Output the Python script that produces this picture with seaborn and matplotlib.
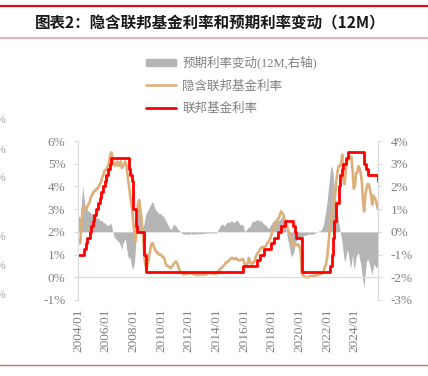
import matplotlib
matplotlib.use('Agg')
import matplotlib.pyplot as plt
from matplotlib.patches import Patch
from matplotlib.lines import Line2D
import numpy as np
import pandas as pd
import seaborn as sns

sns.set_style('white')
plt.rcParams['font.family'] = ['Liberation Serif', 'Noto Sans CJK SC']

# monthly data, 2004/01 - 2025/09 (one row per year)
fed_funds = [
    1.00, 1.00, 1.00, 1.00, 1.00, 1.25, 1.25, 1.50, 1.75, 1.75, 2.00, 2.25,
    2.25, 2.50, 2.75, 2.75, 3.00, 3.25, 3.25, 3.50, 3.75, 3.75, 4.00, 4.25,
    4.50, 4.50, 4.75, 4.75, 5.00, 5.25, 5.25, 5.25, 5.25, 5.25, 5.25, 5.25,
    5.25, 5.25, 5.25, 5.25, 5.25, 5.25, 5.25, 5.25, 4.75, 4.50, 4.50, 4.25,
    3.00, 3.00, 2.25, 2.00, 2.00, 2.00, 2.00, 2.00, 2.00, 1.00, 1.00, 0.25,
    0.25, 0.25, 0.25, 0.25, 0.25, 0.25, 0.25, 0.25, 0.25, 0.25, 0.25, 0.25,
    0.25, 0.25, 0.25, 0.25, 0.25, 0.25, 0.25, 0.25, 0.25, 0.25, 0.25, 0.25,
    0.25, 0.25, 0.25, 0.25, 0.25, 0.25, 0.25, 0.25, 0.25, 0.25, 0.25, 0.25,
    0.25, 0.25, 0.25, 0.25, 0.25, 0.25, 0.25, 0.25, 0.25, 0.25, 0.25, 0.25,
    0.25, 0.25, 0.25, 0.25, 0.25, 0.25, 0.25, 0.25, 0.25, 0.25, 0.25, 0.25,
    0.25, 0.25, 0.25, 0.25, 0.25, 0.25, 0.25, 0.25, 0.25, 0.25, 0.25, 0.25,
    0.25, 0.25, 0.25, 0.25, 0.25, 0.25, 0.25, 0.25, 0.25, 0.25, 0.25, 0.50,
    0.50, 0.50, 0.50, 0.50, 0.50, 0.50, 0.50, 0.50, 0.50, 0.50, 0.50, 0.75,
    0.75, 0.75, 1.00, 1.00, 1.00, 1.25, 1.25, 1.25, 1.25, 1.25, 1.25, 1.50,
    1.50, 1.50, 1.75, 1.75, 1.75, 2.00, 2.00, 2.00, 2.25, 2.25, 2.25, 2.50,
    2.50, 2.50, 2.50, 2.50, 2.50, 2.50, 2.25, 2.25, 2.00, 1.75, 1.75, 1.75,
    1.75, 1.75, 0.25, 0.25, 0.25, 0.25, 0.25, 0.25, 0.25, 0.25, 0.25, 0.25,
    0.25, 0.25, 0.25, 0.25, 0.25, 0.25, 0.25, 0.25, 0.25, 0.25, 0.25, 0.25,
    0.25, 0.25, 0.50, 0.50, 1.00, 1.75, 2.50, 2.50, 3.25, 3.25, 4.00, 4.50,
    4.50, 4.75, 5.00, 5.00, 5.25, 5.25, 5.50, 5.50, 5.50, 5.50, 5.50, 5.50,
    5.50, 5.50, 5.50, 5.50, 5.50, 5.50, 5.50, 5.50, 5.00, 5.00, 4.75, 4.50,
    4.50, 4.50, 4.50, 4.50, 4.50, 4.50, 4.50, 4.50, 4.25,
]

implied_rate = [
    1.7, 1.5, 1.5, 2.4, 3.0, 3.1, 3.0, 3.0, 3.1, 3.2, 3.3, 3.5,
    3.6, 3.7, 3.8, 3.8, 3.9, 3.9, 4.0, 4.1, 4.2, 4.4, 4.5, 4.7,
    4.7, 4.8, 4.9, 5.1, 5.4, 5.5, 5.2, 5.0, 4.9, 5.0, 5.1, 4.9,
    5.0, 5.1, 4.8, 4.9, 5.0, 5.1, 4.9, 4.5, 4.1, 3.7, 3.3, 3.0,
    2.3, 2.0, 1.6, 2.6, 3.2, 3.4, 3.0, 2.6, 2.1, 1.3, 0.7, 0.4,
    0.5, 0.7, 1.0, 1.3, 1.5, 1.5, 1.3, 1.2, 1.1, 1.1, 1.0, 1.0,
    1.0, 0.9, 0.9, 0.8, 0.6, 0.5, 0.5, 0.45, 0.4, 0.45, 0.5, 0.6,
    0.65, 0.7, 0.6, 0.45, 0.3, 0.25, 0.2, 0.15, 0.12, 0.15, 0.15, 0.15,
    0.15, 0.18, 0.2, 0.18, 0.15, 0.12, 0.12, 0.12, 0.1, 0.1, 0.12, 0.12,
    0.12, 0.12, 0.12, 0.12, 0.15, 0.2, 0.2, 0.18, 0.17, 0.15, 0.15, 0.15,
    0.15, 0.2, 0.3, 0.35, 0.4, 0.45, 0.5, 0.55, 0.65, 0.65, 0.7, 0.75,
    0.8, 0.85, 0.85, 0.8, 0.8, 0.85, 0.8, 0.75, 0.75, 0.75, 0.8, 0.8,
    0.65, 0.5, 0.55, 0.6, 0.85, 0.7, 0.6, 0.6, 0.65, 0.7, 0.9, 1.0,
    1.1, 1.15, 1.25, 1.3, 1.35, 1.3, 1.35, 1.4, 1.5, 1.55, 1.65, 1.75,
    1.95, 2.1, 2.2, 2.3, 2.45, 2.55, 2.6, 2.75, 2.9, 2.85, 2.75, 2.55,
    2.3, 2.3, 2.1, 1.95, 1.8, 1.6, 1.55, 1.4, 1.45, 1.4, 1.45, 1.45,
    1.35, 1.1, 0.15, 0.1, 0.05, 0.0, 0.0, 0.0, 0.0, 0.05, 0.05, 0.05,
    0.05, 0.05, 0.1, 0.1, 0.1, 0.12, 0.15, 0.15, 0.2, 0.3, 0.45, 0.6,
    0.9, 1.4, 2.0, 2.4, 2.8, 3.1, 3.3, 3.7, 4.3, 4.7, 4.9, 4.9,
    5.0, 5.4, 4.3, 4.1, 4.6, 5.1, 5.2, 5.2, 5.3, 5.3, 4.7, 3.9,
    4.0, 4.6, 4.6, 4.9, 4.8, 4.6, 4.2, 3.4, 2.9, 3.6, 3.9, 4.1,
    4.1, 3.9, 3.6, 3.2, 3.6, 3.5, 3.4, 3.2, 3.0,
]

expected_change = [
    0.6, 0.7, 0.6, 1.3, 2.0, 1.6, 1.2, 1.1, 1.0, 0.9, 0.9, 0.8,
    0.8, 0.8, 0.7, 0.7, 0.6, 0.6, 0.6, 0.5, 0.5, 0.5, 0.4, 0.4,
    0.35, 0.3, 0.3, 0.3, 0.4, 0.3, 0.05, -0.15, -0.3, -0.3, -0.4, -0.4,
    -0.5, -0.6, -0.8, -0.5, -0.4, -0.3, -0.7, -1.0, -1.2, -1.1, -1.4, -1.6,
    -1.6, -1.3, -0.6, 0.6, 1.2, 1.0, 0.6, 0.2, 0.1, 0.3, 0.6, 0.8,
    0.9, 1.0, 1.1, 1.2, 1.3, 1.3, 1.1, 1.0, 0.9, 0.9, 0.8, 0.8,
    0.8, 0.7, 0.7, 0.6, 0.5, 0.4, 0.3, 0.2, 0.15, 0.1, 0.25, 0.35,
    0.3, 0.25, 0.15, 0.1, 0.05, 0.0, -0.05, -0.1, -0.1, -0.1, -0.1, -0.1,
    -0.1, -0.1, -0.05, -0.1, -0.1, -0.1, -0.1, -0.08, -0.08, -0.08, -0.08, -0.08,
    -0.08, -0.08, -0.05, -0.05, -0.05, -0.05, -0.03, -0.05, -0.05, -0.05, -0.05, -0.05,
    -0.05, 0.05, 0.15, 0.25, 0.3, 0.35, 0.3, 0.25, 0.35, 0.4, 0.45, 0.4,
    0.45, 0.5, 0.45, 0.4, 0.45, 0.5, 0.5, 0.45, 0.35, 0.3, 0.35, 0.3,
    0.1, 0.0, 0.1, 0.15, 0.25, 0.2, 0.35, 0.45, 0.5, 0.45, 0.5, 0.55,
    0.5, 0.5, 0.45, 0.5, 0.4, 0.35, 0.3, 0.3, 0.2, 0.15, 0.2, 0.3,
    0.4, 0.45, 0.5, 0.55, 0.6, 0.55, 0.5, 0.55, 0.6, 0.7, 0.6, 0.3,
    0.2, -0.1, -0.4, -0.6, -0.9, -1.1, -1.0, -0.9, -0.6, -0.4, -0.35, -0.3,
    -0.3, -0.5, -0.4, -0.2, -0.15, -0.15, -0.15, -0.1, -0.1, -0.1, -0.1, -0.1,
    -0.1, -0.05, -0.05, 0.0, 0.0, 0.05, 0.05, 0.1, 0.2, 0.4, 0.7, 1.0,
    1.4, 1.9, 2.4, 2.8, 2.9, 2.6, 2.0, 1.6, 1.2, 0.8, 0.4, 0.1,
    -0.2, -0.5, -1.0, -1.3, -1.2, -0.8, -0.9, -1.2, -1.6, -1.4, -1.0, -1.6,
    -1.5, -1.1, -1.0, -0.9, -1.2, -1.4, -1.8, -2.2, -2.4, -1.8, -1.3, -1.2,
    -1.3, -1.5, -1.7, -1.9, -1.5, -1.4, -1.6, -1.5, -1.6,
]

x_labels = ['2004/01', '2006/01', '2008/01', '2010/01', '2012/01', '2014/01',
            '2016/01', '2018/01', '2020/01', '2022/01', '2024/01']
left_ticks = [-1, 0, 1, 2, 3, 4, 5, 6]
right_ticks = [-3, -2, -1, 0, 1, 2, 3, 4]

title = '图表2：隐含联邦基金利率和预期利率变动（12M）'
legend_labels = ['预期利率变动(12M,右轴)', '隐含联邦基金利率', '联邦基金利率']

GRAY_AREA = '#B5B5B5'
TAN = '#DDB07A'
RED = '#FF0000'
SPINE = '#D9D9D9'
LABEL = '#808080'

df = pd.DataFrame({'t': np.arange(len(fed_funds)), 'fed': fed_funds,
                   'implied': implied_rate, 'chg': expected_change})

fig = plt.figure(figsize=(4.28, 3.76), dpi=100)
ax = fig.add_axes([78 / 428, 1 - 300 / 376, 300 / 428, 159 / 376])
ax2 = ax.twinx()

ax2.fill_between(df['t'], 0, df['chg'], color=GRAY_AREA, lw=0)
sns.lineplot(data=df, x='t', y='implied', ax=ax, color=TAN, lw=1.9)
sns.lineplot(data=df, x='t', y='fed', ax=ax, color=RED, lw=2.0,
             drawstyle='steps-post')
ax.set_zorder(ax2.get_zorder() + 1)
ax.patch.set_visible(False)

ax.set_xlim(0, len(fed_funds) - 1)
ax.set_ylim(-1, 6)
ax2.set_ylim(-3, 4)
ax.set_xlabel('')
ax.set_ylabel('')

for s in ['top', 'right']:
    ax.spines[s].set_visible(False)
for s in ['top', 'left', 'bottom']:
    ax2.spines[s].set_visible(False)
ax.spines['left'].set_color(SPINE)
ax.spines['bottom'].set_color(SPINE)
ax.spines['bottom'].set_position(('data', 0))
ax2.spines['right'].set_color(SPINE)

ax.set_yticks(left_ticks)
ax.set_yticklabels([f'{v}%' for v in left_ticks])
ax2.set_yticks(right_ticks)
ax2.set_yticklabels([f'{v}%' for v in right_ticks])
for a in (ax, ax2):
    a.tick_params(axis='y', length=3, color=SPINE, labelcolor=LABEL,
                  labelsize=9.5, pad=6, direction='out')

x_pos = [(int(l[:4]) - 2004) * 12 + int(l[5:]) - 1 for l in x_labels]
ax.set_xticks(x_pos)
ax.tick_params(axis='x', length=3, color=SPINE, labelbottom=False,
               direction='out')
sec = ax.secondary_xaxis('bottom')
sec.set_xticks(x_pos, labels=x_labels, rotation=90)
sec.tick_params(length=0, labelsize=9.5, labelcolor=LABEL, pad=6)
for s in sec.spines.values():
    s.set_visible(False)

handles = [Patch(color=GRAY_AREA), Line2D([], [], color=TAN, lw=1.9),
           Line2D([], [], color=RED, lw=2.0)]
fig.legend(handles, legend_labels, loc='upper left',
           bbox_to_anchor=(146 / 428, 1 - 56 / 376), frameon=False,
           fontsize=9, labelcolor=LABEL, handlelength=2.4, handleheight=0.5,
           handletextpad=0.5, labelspacing=0.85, borderpad=0,
           borderaxespad=0)

# header / footer decoration
fig.add_artist(Line2D([0, 1], [1 - 5.5 / 376] * 2, transform=fig.transFigure,
                      color='#D0101A', lw=1.6))
fig.add_artist(Line2D([0, 1], [1 - 37.5 / 376] * 2, transform=fig.transFigure,
                      color='#EBA3A3', lw=1.2))
fig.add_artist(Line2D([0, 1], [1 - 365 / 376] * 2, transform=fig.transFigure,
                      color='#D46A6A', lw=1.0))
fig.text(35 / 428, 1 - 23 / 376, title, fontsize=11.2, fontweight='bold',
         family=['Noto Sans CJK SC'], color='#1A1A1A', va='center', ha='left')

# clipped labels of neighbouring chart at left edge
for yy in [120, 150, 178, 237, 266, 295]:
    fig.text(5 / 428, 1 - yy / 376, '%', fontsize=8.5, color='#A0A0A0',
             ha='right', va='center')

fig.savefig('out.png', dpi=100)
plt.close()
